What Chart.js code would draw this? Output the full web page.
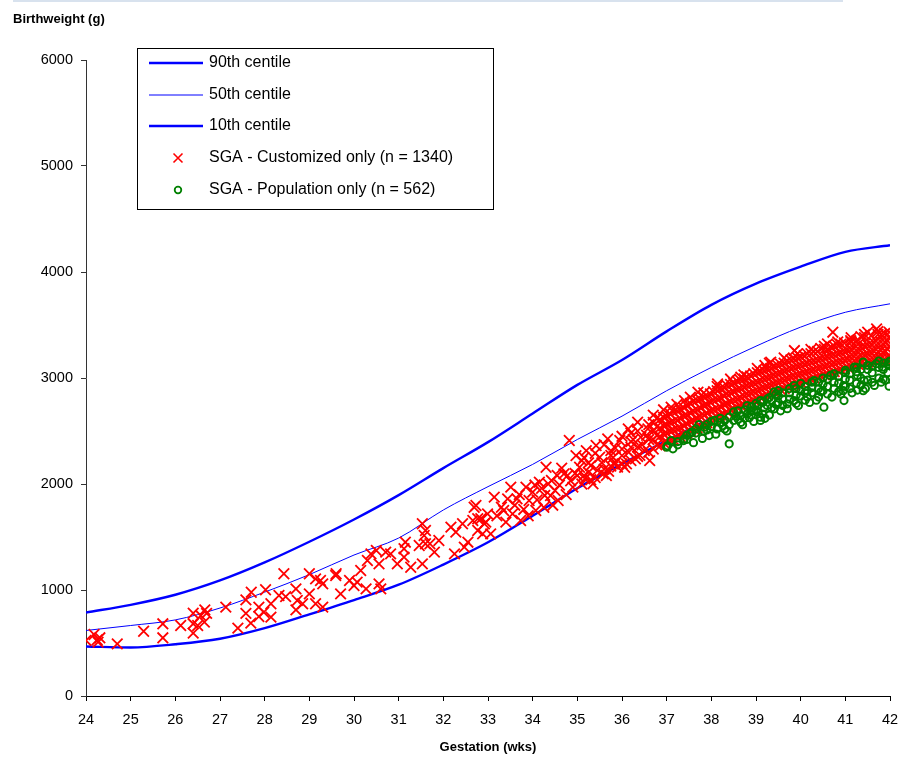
<!DOCTYPE html>
<html>
<head>
<meta charset="utf-8">
<script src="https://cdn.jsdelivr.net/npm/chart.js@4.4.1/dist/chart.umd.min.js"></script>
<style>
  body { margin: 0; background: #fff; }
  #wrap { position: relative; width: 909px; height: 757px; }
  #topRule { position: absolute; left: 13px; top: 0; width: 830px; height: 2px; background: #d8e2ee; }
  canvas { position: absolute; left: 0; top: 0; }
</style>
</head>
<body>
<div id="wrap">
  <div id="topRule"></div>
  <canvas id="chart" width="909" height="757"></canvas>
</div>
<script>
// centile curves (g) by completed week of gestation
const gestationWeeks = [24, 25, 26, 27, 28, 29, 30, 31, 32, 33, 34, 35, 36, 37, 38, 39, 40, 41, 42];
const centile90 = [788, 860, 955, 1090, 1260, 1455, 1665, 1895, 2150, 2395, 2665, 2935, 3170, 3440, 3690, 3890, 4050, 4190, 4253];
const centile50 = [618, 665, 718, 830, 980, 1145, 1330, 1490, 1755, 1975, 2185, 2420, 2640, 2880, 3100, 3300, 3480, 3620, 3700];
const centile10 = [467, 458, 488, 540, 640, 770, 905, 1050, 1240, 1450, 1700, 1960, 2190, 2410, 2620, 2800, 2960, 3090, 3180];

// SGA by customized centile only: [gestation wks, birthweight g]
const sgaCustomized = [
  [24.0, 524], [24.18, 580], [24.25, 530], [24.31, 549], [24.27, 508], [24.7, 492], [25.29, 611],
  [25.72, 681], [25.72, 549], [26.12, 665], [26.4, 781], [26.4, 681], [26.4, 593], [26.5, 665],
  [26.57, 759], [26.66, 813], [26.65, 697], [26.7, 780], [27.13, 838], [27.4, 640], [27.58, 907],
  [27.58, 780], [27.69, 687], [27.7, 979], [27.87, 838], [27.87, 750], [27.98, 790], [28.02, 1002],
  [28.14, 870], [28.14, 744], [28.32, 948], [28.43, 1153], [28.47, 938],
  [28.7, 1011], [28.7, 813], [28.73, 901], [28.85, 870], [29.0, 1153], [29.0, 964], [29.14, 1105],
  [29.14, 870], [29.25, 1090], [29.3, 1058], [29.3, 838], [29.59, 1137], [29.6, 1153], [29.7, 964],
  [29.9, 1090], [30.0, 1042], [30.07, 1074], [30.15, 1184], [30.27, 1011], [30.3, 1278], [30.38, 1341],
  [30.5, 1373], [30.56, 1247], [30.56, 1058], [30.6, 1011], [30.71, 1357], [30.82, 1341], [30.97, 1247],
  [31.12, 1389], [31.12, 1310], [31.15, 1451], [31.27, 1215], [31.46, 1420], [31.53, 1625], [31.57, 1514],
  [31.6, 1561], [31.6, 1436], [31.7, 1436], [31.8, 1357], [31.53, 1247], [31.9, 1467], [32.17, 1593],
  [32.28, 1546], [32.25, 1341], [32.43, 1625], [32.47, 1405], [32.55, 1451], [32.69, 1781], [32.66, 1656],
  [32.77, 1561], [32.84, 1672], [32.92, 1625], [32.99, 1718], [32.88, 1530],
  [32.73, 1797], [32.77, 1672], [32.95, 1640], [33.06, 1530], [33.14, 1876], [33.3, 1781], [33.44, 1860],
  [33.51, 1970], [33.55, 1718], [33.73, 1656], [33.85, 1970], [33.92, 1844], [34.0, 1923], [34.07, 1750],
  [34.15, 2017], [34.27, 1892], [34.3, 2158], [34.42, 2033], [34.5, 1939], [34.57, 1844], [34.7, 2096],
  [34.78, 2080], [34.82, 2410], [34.9, 1970], [34.97, 2268], [35.05, 2158], [35.17, 2049], [35.2, 2315],
  [35.3, 2174], [35.35, 2002], [35.42, 2363], [35.5, 2252], [35.58, 2096], [35.68, 2426], [35.75, 2315],
  [35.82, 2190], [35.95, 2410], [36.0, 2268], [36.06, 2158], [36.14, 2520], [36.2, 2347], [36.3, 2237],
  [36.35, 2583], [36.42, 2442], [36.5, 2315], [36.58, 2520], [36.62, 2221],
  [33.2, 1700], [33.4, 1640], [33.6, 1800], [33.7, 1900], [34.1, 1850], [34.2, 1960], [34.4, 1890],
  [34.6, 1990], [34.65, 2150], [34.85, 2030], [35.0, 2080], [35.1, 2000], [35.3, 2040], [35.45, 2130],
  [35.55, 2200], [35.65, 2080], [35.7, 2120], [35.8, 2250], [35.9, 2160], [36.1, 2190], [36.15, 2300],
  [36.25, 2420], [36.4, 2270], [36.45, 2370], [36.55, 2460],
  [33.35, 1750], [33.65, 1860], [33.8, 1760], [34.05, 1990], [34.35, 2000], [34.45, 1800], [34.55, 2080],
  [34.75, 1900], [34.95, 2100], [35.1, 2220], [33.9, 1700], [34.25, 1780],
  [35.15, 2080], [35.15, 2250], [35.25, 2110], [35.25, 2200], [35.4, 2060], [35.4, 2290], [35.6, 2140],
  [35.6, 2370], [35.75, 2170], [35.75, 2270], [35.85, 2200], [35.85, 2340], [36.0, 2190], [36.0, 2330],
  [36.0, 2450], [36.2, 2220], [36.2, 2400], [36.2, 2480], [36.35, 2260], [36.35, 2350], [36.35, 2500],
  [36.6, 2300], [36.6, 2420], [36.6, 2560],
  [36.7, 2330], [36.7, 2420], [36.7, 2500], [36.7, 2580], [36.7, 2650],
  [36.78, 2370], [36.78, 2460], [36.78, 2540], [36.78, 2620],
  [36.85, 2360], [36.85, 2450], [36.85, 2530], [36.85, 2610],
  [36.93, 2390], [36.93, 2470], [36.93, 2550], [36.93, 2630], [36.93, 2700],
  [37.0, 2400], [37.0, 2480], [37.0, 2560], [37.0, 2640], [37.1, 2725],
  [37.08, 2410], [37.08, 2500], [37.08, 2580], [37.08, 2660],
  [37.15, 2420], [37.15, 2510], [37.15, 2590], [37.15, 2680],
  [37.23, 2440], [37.23, 2520], [37.23, 2600], [37.23, 2690], [37.23, 2750],
  [37.3, 2450], [37.3, 2530], [37.3, 2620], [37.3, 2700], [37.4, 2787],
  [37.38, 2470], [37.38, 2550], [37.38, 2640], [37.38, 2720],
  [37.45, 2480], [37.45, 2570], [37.45, 2650], [37.45, 2740],
  [37.53, 2500], [37.53, 2590], [37.53, 2670], [37.53, 2760], [37.53, 2820],
  [37.6, 2520], [37.6, 2600], [37.6, 2690], [37.6, 2780], [37.7, 2866],
  [37.68, 2530], [37.68, 2620], [37.68, 2700], [37.68, 2790],
  [37.75, 2550], [37.75, 2640], [37.75, 2720], [37.75, 2800],
  [37.83, 2570], [37.83, 2650], [37.83, 2740], [37.83, 2820], [37.83, 2860],
  [37.9, 2580], [37.9, 2670], [37.9, 2750], [37.9, 2830], [38.14, 2945],
  [37.98, 2600], [37.98, 2690], [37.98, 2770], [37.98, 2850],
  [38.05, 2620], [38.05, 2700], [38.05, 2790], [38.05, 2870],
  [38.13, 2630], [38.13, 2710], [38.13, 2800], [38.13, 2880], [38.13, 2920],
  [38.2, 2650], [38.2, 2730], [38.2, 2810], [38.2, 2900],
  [38.28, 2660], [38.28, 2750], [38.28, 2830], [38.28, 2910],
  [38.35, 2680], [38.35, 2760], [38.35, 2850], [38.35, 2930],
  [38.43, 2700], [38.43, 2780], [38.43, 2860], [38.43, 2940], [38.43, 2990],
  [38.5, 2710], [38.5, 2790], [38.5, 2870], [38.5, 2950], [38.66, 3008],
  [38.58, 2720], [38.58, 2800], [38.58, 2890], [38.58, 2970],
  [38.65, 2740], [38.65, 2820], [38.65, 2900], [38.65, 2980],
  [38.73, 2750], [38.73, 2830], [38.73, 2910], [38.73, 2990], [38.73, 3030],
  [38.8, 2770], [38.8, 2850], [38.8, 2930], [38.8, 3010],
  [38.88, 2780], [38.88, 2860], [38.88, 2940], [38.88, 3020],
  [38.95, 2790], [38.95, 2870], [38.95, 2950], [38.95, 3040], [39.2, 3118],
  [39.03, 2800], [39.03, 2880], [39.03, 2960], [39.03, 3050], [39.03, 3090],
  [39.1, 2820], [39.1, 2900], [39.1, 2980], [39.1, 3060],
  [39.18, 2830], [39.18, 2910], [39.18, 2990], [39.18, 3070],
  [39.25, 2840], [39.25, 2920], [39.25, 3000], [39.25, 3080], [39.3, 3140],
  [39.33, 2850], [39.33, 2930], [39.33, 3010], [39.33, 3090], [39.33, 3150],
  [39.4, 2870], [39.4, 2950], [39.4, 3030], [39.4, 3110],
  [39.48, 2880], [39.48, 2960], [39.48, 3040], [39.48, 3120],
  [39.55, 2890], [39.55, 2970], [39.55, 3050], [39.55, 3130],
  [39.63, 2900], [39.63, 2980], [39.63, 3060], [39.63, 3140], [39.63, 3190],
  [39.7, 2920], [39.7, 3000], [39.7, 3080], [39.7, 3160], [39.86, 3259],
  [39.78, 2930], [39.78, 3010], [39.78, 3090], [39.78, 3170],
  [39.85, 2940], [39.85, 3020], [39.85, 3100], [39.85, 3180],
  [39.93, 2950], [39.93, 3030], [39.93, 3110], [39.93, 3190], [39.93, 3230],
  [40.0, 2960], [40.0, 3040], [40.0, 3120], [40.0, 3200], [40.15, 3228],
  [40.08, 2970], [40.08, 3050], [40.08, 3130], [40.08, 3210],
  [40.15, 2980], [40.15, 3060], [40.15, 3140], [40.3, 3250],
  [40.23, 2990], [40.23, 3070], [40.23, 3150], [40.23, 3230], [40.23, 3270],
  [40.3, 3000], [40.3, 3080], [40.3, 3160], [40.45, 3280],
  [40.38, 3010], [40.38, 3090], [40.38, 3170], [40.38, 3250],
  [40.45, 3020], [40.45, 3100], [40.45, 3180], [40.6, 3322],
  [40.53, 3030], [40.53, 3110], [40.53, 3190], [40.53, 3270], [40.53, 3300],
  [40.6, 3040], [40.6, 3120], [40.6, 3200], [40.6, 3270], [40.72, 3432],
  [40.68, 3050], [40.68, 3130], [40.68, 3210], [40.68, 3290],
  [40.75, 3060], [40.75, 3140], [40.75, 3220], [40.75, 3300],
  [40.83, 3070], [40.83, 3150], [40.83, 3230], [40.83, 3310], [40.83, 3340],
  [40.9, 3080], [40.9, 3160], [40.9, 3240], [40.9, 3320],
  [40.98, 3090], [40.98, 3170], [40.98, 3250], [40.98, 3330],
  [41.05, 3100], [41.05, 3180], [41.05, 3260], [41.12, 3353],
  [41.13, 3110], [41.13, 3190], [41.13, 3270], [41.13, 3340], [41.13, 3380],
  [41.2, 3120], [41.2, 3200], [41.2, 3280], [41.25, 3350],
  [41.28, 3130], [41.28, 3200], [41.28, 3280], [41.28, 3360],
  [41.35, 3140], [41.35, 3210], [41.35, 3290], [41.35, 3390],
  [41.43, 3140], [41.43, 3220], [41.43, 3300], [41.43, 3380], [41.43, 3410],
  [41.5, 3150], [41.5, 3230], [41.5, 3310], [41.5, 3432],
  [41.58, 3160], [41.58, 3240], [41.58, 3320], [41.58, 3400],
  [41.65, 3170], [41.65, 3250], [41.65, 3330], [41.7, 3463],
  [41.73, 3170], [41.73, 3250], [41.73, 3330], [41.73, 3410], [41.73, 3440],
  [41.8, 3180], [41.8, 3260], [41.8, 3340], [41.8, 3410],
  [41.88, 3180], [41.88, 3260], [41.88, 3340], [41.88, 3420],
  [41.95, 3190], [41.95, 3270], [41.95, 3350], [41.98, 3432],
  [42.0, 3200], [42.0, 3300], [42.0, 3390]
];

// SGA by population centile only: [gestation wks, birthweight g]
const sgaPopulation = [
  [37.0, 2347], [37.02, 2360], [37.14, 2332], [37.1, 2410], [37.38, 2410], [37.39, 2425], [37.53, 2478],
  [37.57, 2490], [37.72, 2560], [37.83, 2500], [37.84, 2536], [37.95, 2457], [38.07, 2600], [38.13, 2520],
  [38.14, 2530], [38.26, 2550], [38.4, 2560], [38.4, 2379], [38.4, 2630], [38.55, 2640], [38.66, 2580],
  [38.66, 2646], [38.85, 2625], [38.88, 2693], [38.95, 2690], [39.1, 2600], [39.1, 2630], [39.1, 2787],
  [39.18, 2720], [39.3, 2815], [39.41, 2709], [39.4, 2866], [39.7, 2756], [39.85, 2787], [39.85, 2929],
  [40.15, 2820], [40.3, 2976], [40.52, 2725], [40.67, 3024], [40.97, 2787], [40.96, 2929], [41.0, 3071],
  [41.2, 3102], [41.27, 2886], [41.27, 3024], [41.4, 3150], [41.42, 2976], [41.69, 3134], [41.83, 3102],
  [41.98, 2923], [41.98, 3150],
  [38.2, 2580], [38.2, 2620], [38.5, 2600], [38.5, 2680], [38.8, 2660], [38.8, 2740], [39.0, 2700],
  [39.0, 2760], [39.25, 2740], [39.25, 2800], [39.5, 2770], [39.5, 2830], [39.5, 2880], [39.75, 2800],
  [39.75, 2860], [39.75, 2900], [40.0, 2830], [40.0, 2880], [40.0, 2950], [40.25, 2860], [40.25, 2910],
  [40.25, 2960], [40.5, 2880], [40.5, 2940], [40.5, 3000], [40.75, 2900], [40.75, 2960], [40.75, 3040],
  [41.0, 2920], [41.0, 2990], [41.0, 3050], [41.25, 2950], [41.25, 3060], [41.25, 3100], [41.5, 2980],
  [41.5, 3080], [41.5, 3120], [41.75, 3000], [41.75, 3100], [41.75, 3160], [42.0, 3120], [42.0, 3160],
  [37.25, 2370], [37.25, 2400], [37.45, 2420], [37.45, 2460], [37.65, 2480], [37.65, 2520], [37.9, 2510],
  [37.9, 2560], [38.0, 2540], [38.0, 2590], [38.3, 2520], [38.3, 2600], [38.6, 2610], [38.6, 2690],
  [38.75, 2620], [38.75, 2700], [38.9, 2650], [38.9, 2730], [39.05, 2680], [39.05, 2740], [39.15, 2660],
  [39.15, 2770], [39.35, 2720], [39.35, 2790], [39.45, 2750], [39.45, 2850], [39.6, 2740], [39.6, 2800],
  [39.6, 2860], [39.9, 2760], [39.9, 2840], [39.9, 2900], [40.1, 2790], [40.1, 2860], [40.1, 2920],
  [40.4, 2820], [40.4, 2900], [40.4, 2960], [40.6, 2850], [40.6, 2920], [40.6, 2990], [40.85, 2870],
  [40.85, 2950], [40.85, 3020], [41.1, 2900], [41.1, 2980], [41.1, 3040], [41.35, 2930], [41.35, 3000],
  [41.35, 3080], [41.6, 2960], [41.6, 3050], [41.6, 3110], [41.85, 2990], [41.85, 3080], [41.85, 3140],
  [41.95, 3050], [41.95, 3130],
  [39.3, 2650], [39.55, 2690], [39.7, 2710], [39.95, 2740], [40.2, 2770], [40.35, 2790], [40.7, 2820],
  [40.9, 2850], [41.15, 2860], [41.45, 2900], [41.65, 2930], [41.8, 2960], [38.7, 2560], [38.95, 2590],
  [39.2, 2620], [38.35, 2500], [38.1, 2470], [37.8, 2430], [37.6, 2390], [40.15, 2880], [40.45, 2870],
  [40.95, 2880], [41.4, 2880], [41.9, 2980]
];

const FONT = "'Liberation Sans', Arial, sans-serif";

const toPoints = (vals) => gestationWeeks.map((w, i) => ({ x: w, y: vals[i] }));
const toXY = (pairs) => pairs.map(([x, y]) => ({ x, y }));

const centileLine = (label, vals, width) => ({
  type: "line",
  label,
  data: toPoints(vals),
  borderColor: "#0000ff",
  borderWidth: width,
  pointRadius: 0,
  fill: false,
  cubicInterpolationMode: "monotone",
  order: 2,
});

// legend box and the horizontal y title, drawn straight onto the canvas
const overlayPlugin = {
  id: "overlay",
  afterDraw(chart) {
    const ctx = chart.ctx;
    ctx.save();
    ctx.fillStyle = "#000";
    ctx.font = "bold 13px " + FONT;
    ctx.textBaseline = "middle";
    ctx.textAlign = "left";
    ctx.fillText("Birthweight (g)", 13, 19);
    ctx.textAlign = "center";
    ctx.fillText("Gestation (wks)", 488, 747);

    ctx.fillStyle = "#fff";
    ctx.fillRect(137.5, 48.5, 356, 161);
    ctx.strokeStyle = "#000";
    ctx.lineWidth = 1;
    ctx.strokeRect(137.5, 48.5, 356, 161);

    const rows = [63, 95, 126, 158, 190];
    chart.data.datasets.forEach((ds, i) => {
      const y = rows[i];
      if (ds.type === "line") {
        ctx.strokeStyle = ds.borderColor;
        ctx.lineWidth = ds.borderWidth;
        ctx.beginPath();
        ctx.moveTo(149, y);
        ctx.lineTo(203, y);
        ctx.stroke();
      } else if (ds.pointStyle === "crossRot") {
        ctx.strokeStyle = ds.borderColor;
        ctx.lineWidth = 1.6;
        ctx.beginPath();
        ctx.moveTo(173.5, y - 4.5);
        ctx.lineTo(182.5, y + 4.5);
        ctx.moveTo(182.5, y - 4.5);
        ctx.lineTo(173.5, y + 4.5);
        ctx.stroke();
      } else {
        ctx.strokeStyle = ds.borderColor;
        ctx.lineWidth = 1.8;
        ctx.beginPath();
        ctx.arc(178, y, 3.3, 0, Math.PI * 2);
        ctx.stroke();
      }
      ctx.fillStyle = "#000";
      ctx.font = "16px " + FONT;
      ctx.textAlign = "left";
      ctx.fillText(ds.label, 209, y);
    });
    ctx.restore();
  },
};

new Chart(document.getElementById("chart"), {
  type: "scatter",
  data: {
    datasets: [
      centileLine("90th centile", centile90, 2.4),
      centileLine("50th centile", centile50, 1),
      centileLine("10th centile", centile10, 2.4),
      {
        label: "SGA - Customized only (n = 1340)",
        data: toXY(sgaCustomized),
        pointStyle: "crossRot",
        pointRadius: 7.5,
        borderColor: "#ff0000",
        backgroundColor: "#ff0000",
        pointBorderWidth: 1.8,
        order: 1,
      },
      {
        label: "SGA - Population only (n = 562)",
        data: toXY(sgaPopulation),
        pointStyle: "circle",
        pointRadius: 3.6,
        borderColor: "#008000",
        backgroundColor: "rgba(0,0,0,0)",
        pointBorderWidth: 2,
        order: 0,
      },
    ],
  },
  options: {
    responsive: false,
    animation: false,
    layout: { padding: { left: 0, right: 19, top: 60, bottom: 0 } },
    plugins: {
      legend: { display: false },
      tooltip: { enabled: false },
    },
    scales: {
      x: {
        type: "linear",
        min: 24,
        max: 42,
        afterFit: (scale) => {
          scale.height = 61;
        },
        ticks: {
          stepSize: 1,
          color: "#000",
          padding: 10,
          font: { family: FONT, size: 14.5 },
        },
        grid: { drawOnChartArea: false, tickLength: 5, color: "#000" },
        border: { color: "#000" },
      },
      y: {
        min: 0,
        max: 6000,
        afterFit: (scale) => {
          scale.width = 86;
        },
        ticks: {
          stepSize: 1000,
          color: "#000",
          padding: 8,
          font: { family: FONT, size: 14.5 },
          callback: (v) => String(v),
        },
        grid: { drawOnChartArea: false, tickLength: 5, color: "#333" },
        border: { color: "#333" },
      },
    },
  },
  plugins: [overlayPlugin],
});
</script>
</body>
</html>
